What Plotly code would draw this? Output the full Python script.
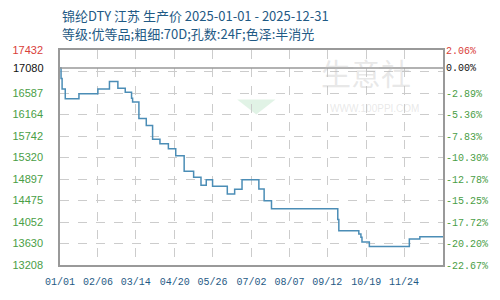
import math
import pandas as pd
import plotly.graph_objects as go

# ---- data ----
dates = ["2025-01-01", "2025-01-02", "2025-01-03", "2025-01-06", "2025-01-19",
         "2025-02-06", "2025-02-17", "2025-02-25", "2025-03-04", "2025-03-10",
         "2025-03-11", "2025-03-17", "2025-03-24", "2025-03-30", "2025-04-06",
         "2025-04-14", "2025-04-21", "2025-04-29", "2025-05-08", "2025-05-15",
         "2025-05-20", "2025-05-26", "2025-06-09", "2025-06-16", "2025-06-23",
         "2025-07-09", "2025-07-14", "2025-07-21", "2025-09-22", "2025-09-23",
         "2025-10-12", "2025-10-14", "2025-10-15", "2025-10-22", "2025-11-29",
         "2025-12-09", "2025-12-31"]
prices = [17080, 16870, 16664, 16472, 16574,
          16664, 16811, 16680, 16600, 16485,
          16408, 16088, 15947, 15680, 15589,
          15493, 15352, 15052, 14933, 14776,
          14885, 14757, 14603, 14698, 14885,
          14699, 14469, 14315, 14100, 13880,
          13815, 13755, 13660, 13573, 13720,
          13765, 13765]
base_price = 17080
y_min, y_max = 13208, 17432
x_tick_dates = ["2025-01-01", "2025-02-06", "2025-03-14", "2025-04-20", "2025-05-26",
                "2025-07-02", "2025-08-07", "2025-09-12", "2025-10-19", "2025-11-24"]
title_line1 = "锦纶DTY 江苏 生产价 2025-01-01 - 2025-12-31"
title_line2 = "等级:优等品;粗细:70D;孔数:24F;色泽:半消光"

RED = "#d9403a"
GREEN = "#4a9e46"
BLACK = "#111111"
BLUE_TXT = "#1f5a85"

# ticks: 10 equal intervals
grid_vals = [y_min + k * (y_max - y_min) / 10 for k in range(11)]
left_vals, left_text, right_text = [], [], []
for i, v in enumerate(grid_vals):
    if i == 9:
        v = base_price
        col = BLACK
        lab = f"{base_price}"
    elif i == 10:
        col = RED
        lab = f"{math.floor(v)}"
    else:
        col = GREEN
        lab = f"{math.floor(v)}"
    pct = (v / base_price - 1) * 100
    left_vals.append(v)
    left_text.append(f"<span style='color:{col}'>{lab}</span>")
    right_text.append(f"<span style='color:{col}'>{pct:.2f}%</span>")

x_tick_text = [pd.Timestamp(d).strftime("%m/%d") for d in x_tick_dates]

fig = go.Figure()
fig.add_trace(go.Scatter(x=dates, y=prices, mode="lines", line_shape="hv",
                         line=dict(color="#4b8db6", width=1.5),
                         showlegend=False, hoverinfo="x+y"))
# invisible trace to bind the right axis
fig.add_trace(go.Scatter(x=dates, y=prices, yaxis="y2", mode="lines",
                         line=dict(width=0), opacity=0, showlegend=False,
                         hoverinfo="skip"))

fig.add_hline(y=base_price, line=dict(color="#999999", width=1.5))

mono = "Liberation Mono"
fig.update_layout(
    width=500, height=300,
    margin=dict(l=50, r=50, t=50, b=30),
    paper_bgcolor="white", plot_bgcolor="white",
    xaxis=dict(type="date", range=["2025-01-01", "2025-12-31"],
               tickvals=x_tick_dates, ticktext=x_tick_text,
               tickfont=dict(family=mono, size=10, color=BLUE_TXT),
               showgrid=True, gridcolor="#cccccc", griddash="dash", gridwidth=1,
               showline=True, linecolor="#999999", linewidth=1.5, mirror=True,
               ticks="", ticklabelstandoff=6, zeroline=False),
    yaxis=dict(range=[y_min, y_max], tickvals=grid_vals,
               ticktext=[t if i != 9 else "" for i, t in enumerate(left_text)],
               tickfont=dict(family="Liberation Sans", size=11, color=GREEN),
               showgrid=True, gridcolor="#cccccc", griddash="dash", gridwidth=1,
               showline=True, linecolor="#999999", linewidth=1.5, mirror=True,
               ticks="", ticklabelstandoff=13, zeroline=False),
    yaxis2=dict(range=[y_min, y_max], overlaying="y", side="right",
                tickvals=left_vals, ticktext=right_text,
                tickfont=dict(family=mono, size=10, color=GREEN),
                showgrid=False, zeroline=False, showline=False, ticks="",
                ticklabelstandoff=2),
    annotations=[
        dict(text=left_text[9], xref="paper", yref="y", x=0, y=base_price,
             xanchor="right", yanchor="middle", xshift=-14, showarrow=False,
             font=dict(family="Liberation Sans", size=11, color=BLACK)),
        dict(text=title_line1, xref="paper", yref="paper", x=0, y=1.159,
             xanchor="left", yanchor="middle", showarrow=False,
             font=dict(family="Noto Sans CJK SC", size=13, color=BLUE_TXT)),
        dict(text=title_line2, xref="paper", yref="paper", x=0, y=1.077,
             xanchor="left", yanchor="middle", showarrow=False,
             font=dict(family="Noto Sans CJK SC", size=13, color=BLUE_TXT)),
        dict(text="生意社", xref="paper", yref="paper", x=0.80, y=0.90,
             xanchor="center", yanchor="middle", showarrow=False,
             font=dict(family="Noto Sans CJK SC", size=30, color="rgba(190,190,190,0.35)")),
        dict(text="WWW.100PPI.COM", xref="paper", yref="paper", x=0.82, y=0.73,
             xanchor="center", yanchor="middle", showarrow=False,
             font=dict(family="Liberation Sans", size=10, color="rgba(190,190,190,0.35)")),
    ],
    shapes=[
        dict(type="path", xref="paper", yref="paper", layer="below",
             path="M 0.5125 0.97 L 0.5625 0.82 L 0.5125 0.67 L 0.4625 0.82 Z",
             fillcolor="rgba(220,150,150,0.18)", line=dict(width=0)),
        dict(type="path", xref="paper", yref="paper", layer="below",
             path="M 0.4625 0.77 L 0.5625 0.77 L 0.5125 0.70 Z",
             fillcolor="rgba(120,200,140,0.22)", line=dict(width=0)),
    ],
)

fig.write_html("out.html")
